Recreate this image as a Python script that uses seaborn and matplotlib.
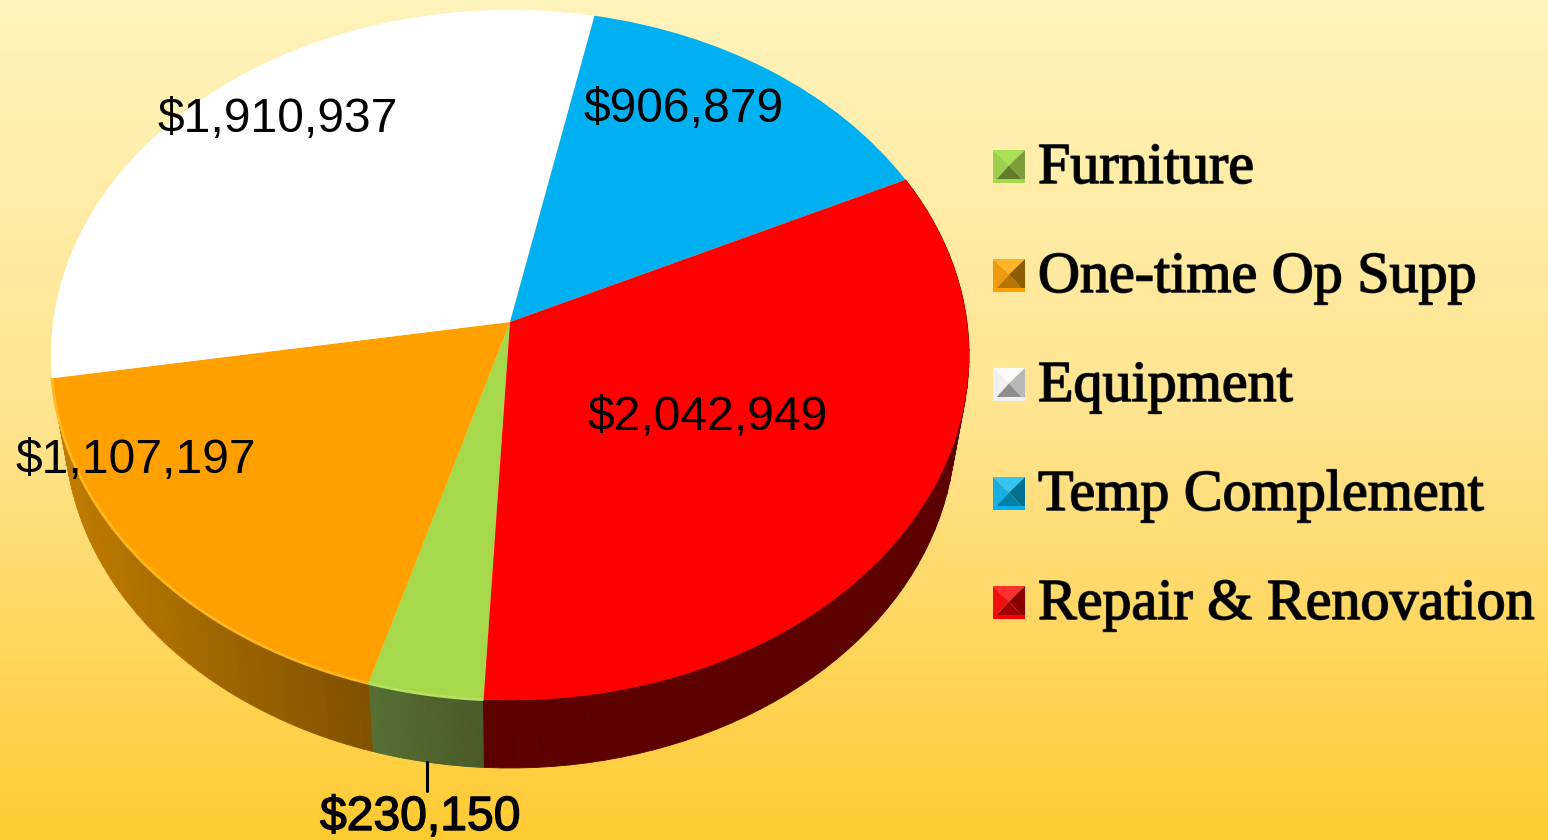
import numpy as np
import matplotlib
matplotlib.use("Agg")
import matplotlib.pyplot as plt
import matplotlib.patheffects as pe
from matplotlib.transforms import Transform
import seaborn as sns

# data
categories = ['Furniture', 'One-time Op Supp', 'Equipment', 'Temp Complement', 'Repair & Renovation']
amounts = [230150, 1107197, 1910937, 906879, 2042949]
slice_colors = ['#A6D84B', '#FF9F00', '#FFFFFF', '#00B0F0', '#FF0000']

# where the value labels sit, in picture pixels (left edge, baseline)
label_x = [320, 15, 157, 583, 587]
label_y = [830, 473, 132, 122, 430]

# wall shading of the three slices seen from the front (left colour, right colour)
wall_shades = {0: ('#566F33', '#495A28'), 1: ('#C27D00', '#7E5000'), 4: ('#5C0000', '#5C0000')}
bevel_shades = [('#A9DF55', '#9CCF4C', '#7C9E3A', '#5F7D2C'),
                ('#FFB52A', '#F09A10', '#8E5C00', '#B87400'),
                ('#FAFAFA', '#F0F0F0', '#B8B8B8', '#8E8E8E'),
                ('#35C6F5', '#18AEE0', '#00708F', '#007FA8'),
                ('#FF3030', '#F01010', '#8A0000', '#A00000')]

sns.set_theme(style="white")
plt.rcParams['font.family'] = ['Liberation Sans', 'DejaVu Sans']

CX, CY = 510.0, 322.0
SCALE_X, SCALE_Y, TILT = 457.0, 342.0, 0.0957


class TiltTransform(Transform):
    # unit pie -> picture pixels, with a little perspective so the centre sits off the ellipse middle
    input_dims = 2
    output_dims = 2

    def transform_non_affine(self, values):
        u, v = values[:, 0], values[:, 1]
        w = 1 + TILT * v
        return np.column_stack([CX + SCALE_X * u / w, CY - SCALE_Y * v / w])


tilt = TiltTransform()


def bottom_rim(points):
    # lower rim is a slightly smaller copy of the top rim
    x = CX + 0.97 * (points[:, 0] - CX)
    y = 428 + 0.985 * (points[:, 1] - 355)
    return np.column_stack([x, y])


def blend(c1, c2, t):
    a, b = np.array(matplotlib.colors.to_rgb(c1)), np.array(matplotlib.colors.to_rgb(c2))
    return tuple(a + (b - a) * t)


fig = plt.figure(figsize=(15.48, 8.4), dpi=100)
ax = fig.add_axes([0, 0, 1, 1])

# pie first, it gives the angles for the walls
wedges, _ = ax.pie(amounts, colors=slice_colors, startangle=-93.0, counterclock=False, radius=1)
ax.set_aspect('auto')
ax.set_xlim(0, 1548)
ax.set_ylim(840, 0)
ax.axis('off')

# background gradient
back_cmap = sns.blend_palette(['#FFF4BC', '#FFE48F', '#FFCB33'], as_cmap=True)
ax.imshow(np.linspace(0, 1, 256).reshape(-1, 1), cmap=back_cmap, extent=[0, 1548, 840, 0],
          aspect='auto', zorder=0)

for i, wedge in enumerate(wedges):
    wedge.set_transform(tilt + ax.transData)
    wedge.set_zorder(3)
    wedge.set_edgecolor('none')
    if i not in wall_shades:
        continue
    # the wall, cut in small strips so it can shade across
    angles = np.radians(np.linspace(wedge.theta1, wedge.theta2, 60))
    top = tilt.transform(np.column_stack([np.cos(angles), np.sin(angles)]))
    low = bottom_rim(top)
    left_c, right_c = wall_shades[i]
    x_min, x_max = top[:, 0].min(), top[:, 0].max()
    for k in range(len(top) - 1):
        t = (top[k, 0] - x_min) / max(x_max - x_min, 1)
        col = blend(left_c, right_c, t)
        strip = np.vstack([top[k], top[k + 1], low[k + 1], low[k]])
        ax.fill(strip[:, 0], strip[:, 1], color=col, lw=0.6, zorder=2)
    # light edge along the rim
    if i in (0, 1):
        rim = '#FFB81F' if i == 1 else '#B5E060'
        ax.plot(top[:, 0], top[:, 1], color=rim, lw=2, zorder=4, solid_capstyle='butt')

# value labels
for i, val in enumerate(amounts):
    txt = ax.text(label_x[i], label_y[i], f"${val:,}", fontsize=34.6, color='black',
                  ha='left', va='baseline', zorder=6)
    # the one off the pie looks heavier in the picture
    if i == 0:
        txt.set_path_effects([pe.withStroke(linewidth=1.0, foreground='black')])

# leader line of the small slice
ax.plot([427, 427], [762, 791], color='black', lw=2.2, zorder=6)

# legend, bevelled squares and text
for i, name in enumerate(categories):
    yc = 166 + i * 109
    x0, x1, y0, y1 = 993, 1025, yc - 16, yc + 17
    mx, my = (x0 + x1) / 2, (y0 + y1) / 2 - 1
    c_top, c_left, c_right, c_bottom = bevel_shades[i]
    ax.fill([x0, x1, mx], [y0, y0, my], color=c_top, lw=0, zorder=5)
    ax.fill([x0, x0, mx], [y0, y1, my], color=c_left, lw=0, zorder=5)
    ax.fill([x1, x1, mx], [y0, y1, my], color=c_right, lw=0, zorder=5)
    ax.fill([x0, x1, mx], [y1, y1, my], color=c_bottom, lw=0, zorder=5)
    ax.fill([x0, x1, x1, x0], [y1 - 4, y1 - 4, y1, y1], color=slice_colors[i] if i != 2 else '#F0F0F0', lw=0, zorder=5)
    txt = ax.text(1038, yc + 17, name, fontsize=41.8, family=['Liberation Serif', 'DejaVu Serif'],
                  color='black', ha='left', va='baseline', zorder=6)
    txt.set_path_effects([pe.withStroke(linewidth=1.2, foreground='#222222')])

fig.savefig('out.png', dpi=100)
